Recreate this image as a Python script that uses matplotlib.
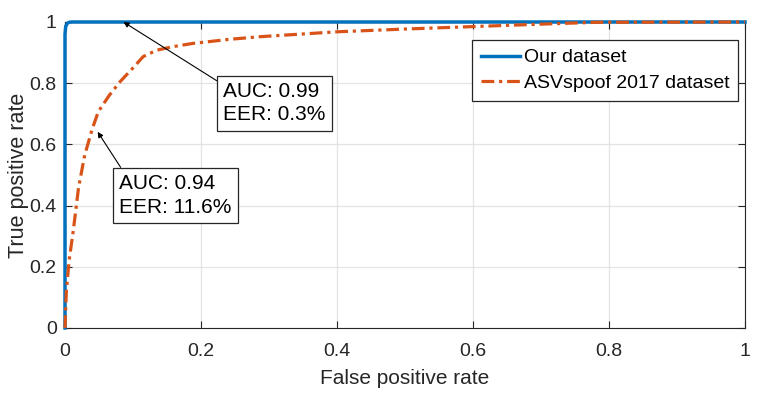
import numpy as np
import matplotlib.pyplot as plt

plt.rcParams['font.family'] = ['Liberation Sans', 'DejaVu Sans']

# ROC points
fpr_ours = [0.0, 0.0, 0.001, 0.003, 0.006, 0.01, 0.05, 1.0]
tpr_ours = [0.0, 0.96, 0.985, 0.995, 0.999, 1.0, 1.0, 1.0]

fpr_asv = [0.0, 0.002, 0.006, 0.012, 0.02, 0.029, 0.04, 0.049, 0.065, 0.081,
           0.1, 0.115, 0.135, 0.16, 0.188, 0.24, 0.287, 0.4, 0.5, 0.6, 0.7, 0.78, 1.0]
tpr_asv = [0.0, 0.12, 0.22, 0.315, 0.46, 0.565, 0.65, 0.707, 0.76, 0.805,
           0.85, 0.887, 0.908, 0.92, 0.93, 0.943, 0.952, 0.968, 0.977, 0.985, 0.993, 0.999, 1.0]

labels = ['Our dataset', 'ASVspoof 2017 dataset']
ann_text = ['AUC: 0.99\nEER: 0.3%', 'AUC: 0.94\nEER: 11.6%']
ann_xy = [(0.086, 1.0), (0.048, 0.641)]
ann_text_xy = [(0.233, 0.804), (0.080, 0.503)]
ann_relpos = [(0.0, 0.93), (0.05, 1.0)]

blue = '#0072BD'
orange = '#D95319'

fig = plt.figure(figsize=(7.57, 3.98), dpi=100)
ax = fig.add_axes([65/757, 1-328/398, 680/757, 306/398])

ax.plot(fpr_ours, tpr_ours, color=blue, lw=2.5, label=labels[0], zorder=3,
        clip_on=False)
# orange is drawn over the blue one where they meet at tpr = 1
ax.plot(fpr_asv, tpr_asv, color=orange, lw=2.3, ls=(0, (4.0, 1.5, 1.0, 1.5)),
        label=labels[1], zorder=4, clip_on=False)

ax.set_xlim(0, 1)
ax.set_ylim(0, 1)
ax.set_xticks(np.arange(0, 1.01, 0.2))
ax.set_yticks(np.arange(0, 1.01, 0.2))
ax.set_xticklabels(['0', '0.2', '0.4', '0.6', '0.8', '1'])
ax.set_yticklabels(['0', '0.2', '0.4', '0.6', '0.8', '1'])
ax.tick_params(direction='in', length=5, width=0.8, top=True, right=True,
               labelsize=14, colors='#262626')
ax.tick_params(axis='x', pad=11)
ax.tick_params(axis='y', pad=6)
ax.grid(True, color='#e3e3e3', lw=0.9)
ax.set_axisbelow(True)
for s in ax.spines.values():
    s.set_color('#262626')
    s.set_linewidth(0.8)

ax.set_xlabel('False positive rate', fontsize=15, color='#262626', labelpad=6)
ax.set_ylabel('True positive rate', fontsize=15.5, color='#262626', labelpad=0)

for txt, xy, xyt, rp in zip(ann_text, ann_xy, ann_text_xy, ann_relpos):
    ax.annotate(txt, xy=xy, xytext=xyt, textcoords='axes fraction',
                fontsize=15, ha='left', va='top', linespacing=1.3,
                bbox=dict(boxstyle='square,pad=0.3', fc='white', ec='#262626', lw=0.9),
                arrowprops=dict(arrowstyle='-|>', color='black', lw=0.8,
                                mutation_scale=8, shrinkA=0, shrinkB=0,
                                relpos=rp),
                zorder=5)

leg = ax.legend(loc='upper right', bbox_to_anchor=(0.99, 0.941), borderaxespad=0,
                fontsize=14, fancybox=False, framealpha=1, edgecolor='#262626',
                handlelength=2.0, handletextpad=0.2, borderpad=0.45,
                labelspacing=0.4)
leg.get_frame().set_linewidth(0.9)

fig.savefig('out.png', dpi=100)
